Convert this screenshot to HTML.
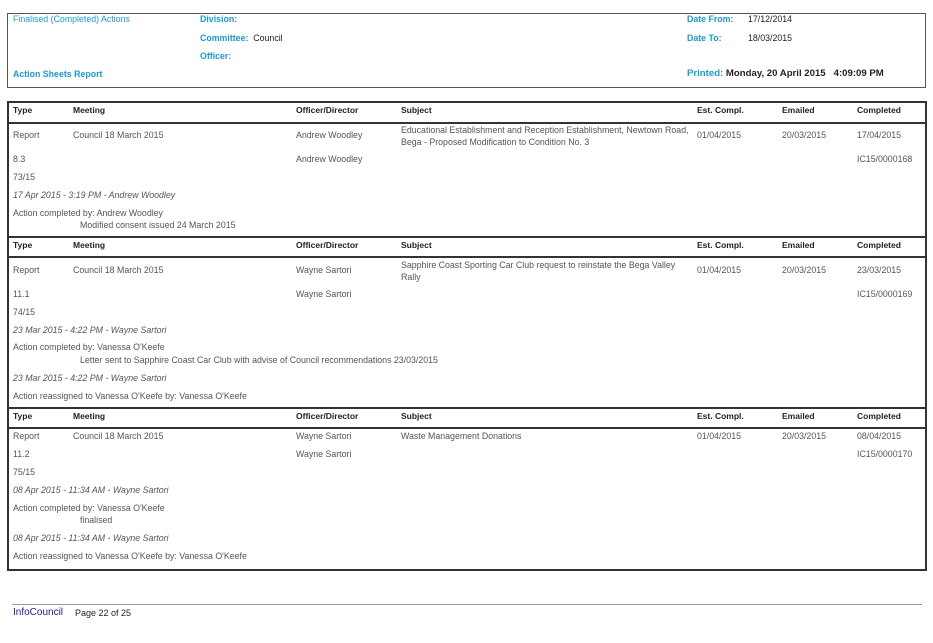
<!DOCTYPE html>
<html><head><meta charset="utf-8"><style>
body{margin:0;width:933px;height:643px;background:#fff;position:relative;overflow:hidden;font-family:"Liberation Sans",sans-serif;}
.t{position:absolute;font-size:8.8px;line-height:12px;color:#555;white-space:nowrap;}
.h{color:#222;font-weight:bold;font-size:8.5px;}
.b{color:#1a9ad0;font-weight:bold;}
.bl{color:#1a9ad0;}
.k{color:#222;}
.i{font-style:italic;}
.ln{position:absolute;background:#333;}
</style></head><body>
<div style="position:absolute;left:7px;top:13px;width:917px;height:73px;border:1.5px solid #555;"></div>
<div class="t bl" style="left:13px;top:13px">Finalised (Completed) Actions</div>
<div class="t b" style="left:200px;top:13px">Division:</div>
<div class="t b" style="left:200px;top:32px">Committee: <span class="k" style="font-weight:normal">&nbsp;Council</span></div>
<div class="t b" style="left:200px;top:50px">Officer:</div>
<div class="t b" style="left:13px;top:68px">Action Sheets Report</div>
<div class="t b" style="left:687px;top:13px">Date From:</div>
<div class="t k" style="left:748px;top:13px">17/12/2014</div>
<div class="t b" style="left:687px;top:32px">Date To:</div>
<div class="t k" style="left:748px;top:32px">18/03/2015</div>
<div class="t b" style="left:687px;top:68px;font-size:9.6px">Printed: <span class="k">Monday, 20 April 2015 &nbsp;&nbsp;4:09:09 PM</span></div>

<div style="position:absolute;left:7px;top:101px;width:916px;height:466px;border:2px solid #333;"></div>
<div class="ln" style="left:7px;top:122px;width:920px;height:2px"></div>
<div class="ln" style="left:7px;top:236px;width:920px;height:2px"></div>
<div class="ln" style="left:7px;top:256px;width:920px;height:2px"></div>
<div class="ln" style="left:7px;top:407px;width:920px;height:2px"></div>
<div class="ln" style="left:7px;top:427px;width:920px;height:2px"></div>

<div class="t h" style="left:13px;top:104px">Type</div><div class="t h" style="left:73px;top:104px">Meeting</div><div class="t h" style="left:296px;top:104px">Officer/Director</div><div class="t h" style="left:401px;top:104px">Subject</div><div class="t h" style="left:697px;top:104px">Est. Compl.</div><div class="t h" style="left:782px;top:104px">Emailed</div><div class="t h" style="left:857px;top:104px">Completed</div>
<div class="t h" style="left:13px;top:239px">Type</div><div class="t h" style="left:73px;top:239px">Meeting</div><div class="t h" style="left:296px;top:239px">Officer/Director</div><div class="t h" style="left:401px;top:239px">Subject</div><div class="t h" style="left:697px;top:239px">Est. Compl.</div><div class="t h" style="left:782px;top:239px">Emailed</div><div class="t h" style="left:857px;top:239px">Completed</div>
<div class="t h" style="left:13px;top:410px">Type</div><div class="t h" style="left:73px;top:410px">Meeting</div><div class="t h" style="left:296px;top:410px">Officer/Director</div><div class="t h" style="left:401px;top:410px">Subject</div><div class="t h" style="left:697px;top:410px">Est. Compl.</div><div class="t h" style="left:782px;top:410px">Emailed</div><div class="t h" style="left:857px;top:410px">Completed</div>

<div class="t" style="left:13px;top:129px">Report</div><div class="t" style="left:73px;top:129px">Council 18 March 2015</div><div class="t" style="left:296px;top:129px">Andrew Woodley</div>
<div class="t" style="left:401px;top:124px">Educational Establishment and Reception Establishment, Newtown Road,<br>Bega - Proposed Modification to Condition No. 3</div>
<div class="t" style="left:697px;top:129px">01/04/2015</div><div class="t" style="left:782px;top:129px">20/03/2015</div><div class="t" style="left:857px;top:129px">17/04/2015</div>
<div class="t" style="left:13px;top:153px">8.3</div><div class="t" style="left:296px;top:153px">Andrew Woodley</div><div class="t" style="left:857px;top:153px">IC15/0000168</div>
<div class="t" style="left:13px;top:171px">73/15</div>
<div class="t i" style="left:13px;top:189px">17 Apr 2015 - 3:19 PM - Andrew Woodley</div>
<div class="t" style="left:13px;top:207px">Action completed by: Andrew Woodley</div>
<div class="t" style="left:80px;top:219px">Modified consent issued 24 March 2015</div>

<div class="t" style="left:13px;top:264px">Report</div><div class="t" style="left:73px;top:264px">Council 18 March 2015</div><div class="t" style="left:296px;top:264px">Wayne Sartori</div>
<div class="t" style="left:401px;top:259px">Sapphire Coast Sporting Car Club request to reinstate the Bega Valley<br>Rally</div>
<div class="t" style="left:697px;top:264px">01/04/2015</div><div class="t" style="left:782px;top:264px">20/03/2015</div><div class="t" style="left:857px;top:264px">23/03/2015</div>
<div class="t" style="left:13px;top:288px">11.1</div><div class="t" style="left:296px;top:288px">Wayne Sartori</div><div class="t" style="left:857px;top:288px">IC15/0000169</div>
<div class="t" style="left:13px;top:306px">74/15</div>
<div class="t i" style="left:13px;top:324px">23 Mar 2015 - 4:22 PM - Wayne Sartori</div>
<div class="t" style="left:13px;top:341px">Action completed by: Vanessa O'Keefe</div>
<div class="t" style="left:80px;top:354px">Letter sent to Sapphire Coast Car Club with advise of Council recommendations 23/03/2015</div>
<div class="t i" style="left:13px;top:372px">23 Mar 2015 - 4:22 PM - Wayne Sartori</div>
<div class="t" style="left:13px;top:390px">Action reassigned to Vanessa O'Keefe by: Vanessa O'Keefe</div>

<div class="t" style="left:13px;top:430px">Report</div><div class="t" style="left:73px;top:430px">Council 18 March 2015</div><div class="t" style="left:296px;top:430px">Wayne Sartori</div>
<div class="t" style="left:401px;top:430px">Waste Management Donations</div>
<div class="t" style="left:697px;top:430px">01/04/2015</div><div class="t" style="left:782px;top:430px">20/03/2015</div><div class="t" style="left:857px;top:430px">08/04/2015</div>
<div class="t" style="left:13px;top:448px">11.2</div><div class="t" style="left:296px;top:448px">Wayne Sartori</div><div class="t" style="left:857px;top:448px">IC15/0000170</div>
<div class="t" style="left:13px;top:466px">75/15</div>
<div class="t i" style="left:13px;top:484px">08 Apr 2015 - 11:34 AM - Wayne Sartori</div>
<div class="t" style="left:13px;top:502px">Action completed by: Vanessa O'Keefe</div>
<div class="t" style="left:80px;top:514px">finalised</div>
<div class="t i" style="left:13px;top:532px">08 Apr 2015 - 11:34 AM - Wayne Sartori</div>
<div class="t" style="left:13px;top:550px">Action reassigned to Vanessa O'Keefe by: Vanessa O'Keefe</div>

<div style="position:absolute;left:12px;top:604px;width:910px;height:1px;background:#999"></div>
<div class="t" style="left:13px;top:607px;font-size:10px;color:#1a1a8c">InfoCouncil</div>
<div class="t" style="left:75px;top:607px;font-size:9px;color:#222">Page 22 of 25</div>
</body></html>
